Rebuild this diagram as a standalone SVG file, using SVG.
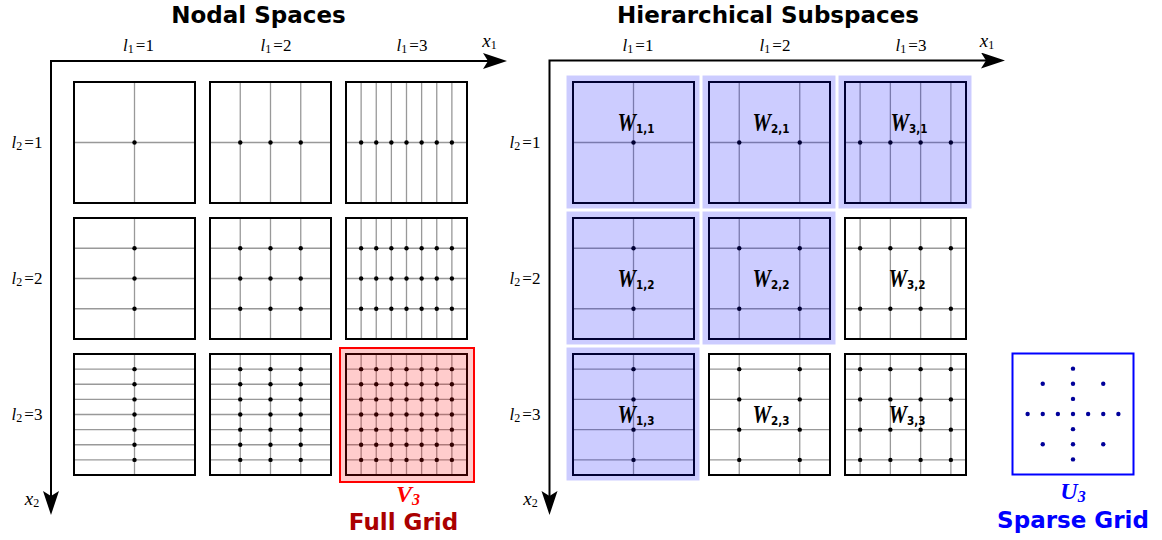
<svg xmlns="http://www.w3.org/2000/svg" width="1162" height="540" viewBox="0 0 1162 540">
<style>
.title{font-family:"DejaVu Sans","Liberation Sans",sans-serif;font-weight:bold;font-size:23px;text-anchor:middle}
.m{font-family:"Liberation Serif",serif;font-size:17px;fill:#000;text-anchor:middle}
.xl{font-family:"Liberation Serif",serif;font-size:19px;fill:#000;text-anchor:middle}
.it{font-style:italic}
.sb{font-size:12px}
.box{fill:none;stroke:#000;stroke-width:2}
.ax{fill:none;stroke:#000;stroke-width:2}
.hl{fill:#0000ff;fill-opacity:0.2;stroke:none}
.wl{font-family:"Liberation Serif",serif;font-weight:bold;font-style:italic;font-size:26px;text-anchor:middle}
.ws{font-family:"DejaVu Sans",sans-serif;font-weight:bold;font-style:normal;font-size:13px}
.big{font-family:"Liberation Serif",serif;font-weight:bold;font-style:italic;font-size:24px;text-anchor:middle}
.bigs{font-size:16px}
</style>
<defs>
<marker id="arr" markerUnits="userSpaceOnUse" viewBox="0 0 26 18" markerWidth="26" markerHeight="18" refX="5" refY="8" orient="auto-start-reverse"><path d="M0,0 L24,8 L0,16 L5,8 Z" fill="#000"/></marker>
<g id="V1" stroke="#999" stroke-width="1.3"><path d="M60.5 0V121"/></g>
<g id="V2" stroke="#999" stroke-width="1.3"><path d="M30.25 0V121M60.5 0V121M90.75 0V121"/></g>
<g id="V3" stroke="#999" stroke-width="1.3"><path d="M15.125 0V121M30.25 0V121M45.375 0V121M60.5 0V121M75.625 0V121M90.75 0V121M105.875 0V121"/></g>
<g id="H1" stroke="#999" stroke-width="1.3"><path d="M0 60.5H121"/></g>
<g id="H2" stroke="#999" stroke-width="1.3"><path d="M0 30.25H121M0 60.5H121M0 90.75H121"/></g>
<g id="H3" stroke="#999" stroke-width="1.3"><path d="M0 15.125H121M0 30.25H121M0 45.375H121M0 60.5H121M0 75.625H121M0 90.75H121M0 105.875H121"/></g>
<g id="HV2" stroke="#999" stroke-width="1.3"><path d="M30.25 0V121M90.75 0V121"/></g>
<g id="HV3" stroke="#999" stroke-width="1.3"><path d="M15.125 0V121M45.375 0V121M75.625 0V121M105.875 0V121"/></g>
<g id="HH2" stroke="#999" stroke-width="1.3"><path d="M0 30.25H121M0 90.75H121"/></g>
<g id="HH3" stroke="#999" stroke-width="1.3"><path d="M0 15.125H121M0 45.375H121M0 75.625H121M0 105.875H121"/></g>
<g id="D1" fill="#000"><circle cx="60.5" cy="0" r="2.2"/></g>
<g id="D2" fill="#000"><circle cx="30.25" cy="0" r="2.2"/><circle cx="60.5" cy="0" r="2.2"/><circle cx="90.75" cy="0" r="2.2"/></g>
<g id="D3" fill="#000"><circle cx="15.125" cy="0" r="2.2"/><circle cx="30.25" cy="0" r="2.2"/><circle cx="45.375" cy="0" r="2.2"/><circle cx="60.5" cy="0" r="2.2"/><circle cx="75.625" cy="0" r="2.2"/><circle cx="90.75" cy="0" r="2.2"/><circle cx="105.875" cy="0" r="2.2"/></g>
<g id="HD2" fill="#000"><circle cx="30.25" cy="0" r="2.2"/><circle cx="90.75" cy="0" r="2.2"/></g>
<g id="HD3" fill="#000"><circle cx="15.125" cy="0" r="2.2"/><circle cx="45.375" cy="0" r="2.2"/><circle cx="75.625" cy="0" r="2.2"/><circle cx="105.875" cy="0" r="2.2"/></g>
</defs>
<rect width="1162" height="540" fill="#fff"/>

<text class="title" x="258.5" y="23">Nodal Spaces</text>
<text class="title" x="768" y="23">Hierarchical Subspaces</text>

<g id="connectors">
<polyline class="ax" points="51,496 51,61 488,61" marker-start="url(#arr)" marker-end="url(#arr)"/>
<polyline class="ax" points="549.5,496 549.5,60.5 986,60.5" marker-start="url(#arr)" marker-end="url(#arr)"/>
</g>

<g id="axis-labels">
<text class="m" x="138.5" y="51"><tspan class="it">l</tspan><tspan class="sb" dy="2">1</tspan><tspan dx="2" dy="-2">=1</tspan></text>
<text class="m" x="276" y="51"><tspan class="it">l</tspan><tspan class="sb" dy="2">1</tspan><tspan dx="2" dy="-2">=2</tspan></text>
<text class="m" x="412" y="51"><tspan class="it">l</tspan><tspan class="sb" dy="2">1</tspan><tspan dx="2" dy="-2">=3</tspan></text>
<text class="xl" x="489.5" y="47"><tspan class="it">x</tspan><tspan class="sb" dy="2">1</tspan></text>
<text class="m" x="27" y="148"><tspan class="it">l</tspan><tspan class="sb" dy="2">2</tspan><tspan dx="2" dy="-2">=1</tspan></text>
<text class="m" x="27" y="284"><tspan class="it">l</tspan><tspan class="sb" dy="2">2</tspan><tspan dx="2" dy="-2">=2</tspan></text>
<text class="m" x="27" y="420"><tspan class="it">l</tspan><tspan class="sb" dy="2">2</tspan><tspan dx="2" dy="-2">=3</tspan></text>
<text class="xl" x="32" y="505"><tspan class="it">x</tspan><tspan class="sb" dy="2">2</tspan></text>

<text class="m" x="638" y="51"><tspan class="it">l</tspan><tspan class="sb" dy="2">1</tspan><tspan dx="2" dy="-2">=1</tspan></text>
<text class="m" x="775" y="51"><tspan class="it">l</tspan><tspan class="sb" dy="2">1</tspan><tspan dx="2" dy="-2">=2</tspan></text>
<text class="m" x="911" y="51"><tspan class="it">l</tspan><tspan class="sb" dy="2">1</tspan><tspan dx="2" dy="-2">=3</tspan></text>
<text class="xl" x="987" y="47"><tspan class="it">x</tspan><tspan class="sb" dy="2">1</tspan></text>
<text class="m" x="525" y="148"><tspan class="it">l</tspan><tspan class="sb" dy="2">2</tspan><tspan dx="2" dy="-2">=1</tspan></text>
<text class="m" x="525" y="284"><tspan class="it">l</tspan><tspan class="sb" dy="2">2</tspan><tspan dx="2" dy="-2">=2</tspan></text>
<text class="m" x="525" y="420"><tspan class="it">l</tspan><tspan class="sb" dy="2">2</tspan><tspan dx="2" dy="-2">=3</tspan></text>
<text class="xl" x="530.5" y="505"><tspan class="it">x</tspan><tspan class="sb" dy="2">2</tspan></text>
</g>

<!-- Nodal spaces -->
<g id="nodal-1-1"><use href="#V1" x="74" y="82"/><use href="#H1" x="74" y="82"/><rect class="box" x="74" y="82" width="121" height="121"/><use href="#D1" x="74" y="142.5"/></g>
<g id="nodal-2-1"><use href="#V2" x="210" y="82"/><use href="#H1" x="210" y="82"/><rect class="box" x="210" y="82" width="121" height="121"/><use href="#D2" x="210" y="142.5"/></g>
<g id="nodal-3-1"><use href="#V3" x="346" y="82"/><use href="#H1" x="346" y="82"/><rect class="box" x="346" y="82" width="121" height="121"/><use href="#D3" x="346" y="142.5"/></g>

<g id="nodal-1-2"><use href="#V1" x="74" y="218"/><use href="#H2" x="74" y="218"/><rect class="box" x="74" y="218" width="121" height="121"/><use href="#D1" x="74" y="248.25"/><use href="#D1" x="74" y="278.5"/><use href="#D1" x="74" y="308.75"/></g>
<g id="nodal-2-2"><use href="#V2" x="210" y="218"/><use href="#H2" x="210" y="218"/><rect class="box" x="210" y="218" width="121" height="121"/><use href="#D2" x="210" y="248.25"/><use href="#D2" x="210" y="278.5"/><use href="#D2" x="210" y="308.75"/></g>
<g id="nodal-3-2"><use href="#V3" x="346" y="218"/><use href="#H2" x="346" y="218"/><rect class="box" x="346" y="218" width="121" height="121"/><use href="#D3" x="346" y="248.25"/><use href="#D3" x="346" y="278.5"/><use href="#D3" x="346" y="308.75"/></g>

<g id="nodal-1-3"><use href="#V1" x="74" y="354"/><use href="#H3" x="74" y="354"/><rect class="box" x="74" y="354" width="121" height="121"/><use href="#D1" x="74" y="369.125"/><use href="#D1" x="74" y="384.25"/><use href="#D1" x="74" y="399.375"/><use href="#D1" x="74" y="414.5"/><use href="#D1" x="74" y="429.625"/><use href="#D1" x="74" y="444.75"/><use href="#D1" x="74" y="459.875"/></g>
<g id="nodal-2-3"><use href="#V2" x="210" y="354"/><use href="#H3" x="210" y="354"/><rect class="box" x="210" y="354" width="121" height="121"/><use href="#D2" x="210" y="369.125"/><use href="#D2" x="210" y="384.25"/><use href="#D2" x="210" y="399.375"/><use href="#D2" x="210" y="414.5"/><use href="#D2" x="210" y="429.625"/><use href="#D2" x="210" y="444.75"/><use href="#D2" x="210" y="459.875"/></g>
<g id="nodal-3-3"><use href="#V3" x="346" y="354"/><use href="#H3" x="346" y="354"/><rect class="box" x="346" y="354" width="121" height="121"/><use href="#D3" x="346" y="369.125"/><use href="#D3" x="346" y="384.25"/><use href="#D3" x="346" y="399.375"/><use href="#D3" x="346" y="414.5"/><use href="#D3" x="346" y="429.625"/><use href="#D3" x="346" y="444.75"/><use href="#D3" x="346" y="459.875"/>
<rect x="340" y="348" width="134" height="134" fill="#ff0000" fill-opacity="0.2" stroke="#ff0000" stroke-width="2"/></g>

<g id="full-grid-label">
<text class="big" x="408" y="502" fill="#ff0000">V<tspan class="bigs" dy="3">3</tspan></text>
<text class="title" x="403.5" y="530" fill="#aa0000">Full Grid</text>
</g>

<!-- Hierarchical subspaces -->
<g id="hier-1-1"><use href="#V1" x="573" y="82"/><use href="#H1" x="573" y="82"/><rect class="box" x="573" y="82" width="121" height="121"/><use href="#D1" x="573" y="142.5"/><rect class="hl" x="566.5" y="75.5" width="133" height="133"/>
<text class="wl" transform="translate(636,131) scale(0.8,1)">W<tspan class="ws" dy="2">1,1</tspan></text></g>
<g id="hier-2-1"><use href="#HV2" x="709" y="82"/><use href="#H1" x="709" y="82"/><rect class="box" x="709" y="82" width="121" height="121"/><use href="#HD2" x="709" y="142.5"/><rect class="hl" x="702.5" y="75.5" width="133" height="133"/>
<text class="wl" transform="translate(771,131) scale(0.8,1)">W<tspan class="ws" dy="2">2,1</tspan></text></g>
<g id="hier-3-1"><use href="#HV3" x="845" y="82"/><use href="#H1" x="845" y="82"/><rect class="box" x="845" y="82" width="121" height="121"/><use href="#HD3" x="845" y="142.5"/><rect class="hl" x="838.5" y="75.5" width="133" height="133"/>
<text class="wl" transform="translate(909,131) scale(0.8,1)">W<tspan class="ws" dy="2">3,1</tspan></text></g>

<g id="hier-1-2"><use href="#V1" x="573" y="218"/><use href="#HH2" x="573" y="218"/><rect class="box" x="573" y="218" width="121" height="121"/><use href="#D1" x="573" y="248.25"/><use href="#D1" x="573" y="308.75"/><rect class="hl" x="566.5" y="211.5" width="133" height="133"/>
<text class="wl" transform="translate(636,287) scale(0.8,1)">W<tspan class="ws" dy="2">1,2</tspan></text></g>
<g id="hier-2-2"><use href="#HV2" x="709" y="218"/><use href="#HH2" x="709" y="218"/><rect class="box" x="709" y="218" width="121" height="121"/><use href="#HD2" x="709" y="248.25"/><use href="#HD2" x="709" y="308.75"/><rect class="hl" x="702.5" y="211.5" width="133" height="133"/>
<text class="wl" transform="translate(771,287) scale(0.8,1)">W<tspan class="ws" dy="2">2,2</tspan></text></g>
<g id="hier-3-2"><use href="#HV3" x="845" y="218"/><use href="#HH2" x="845" y="218"/><rect class="box" x="845" y="218" width="121" height="121"/><use href="#HD3" x="845" y="248.25"/><use href="#HD3" x="845" y="308.75"/>
<text class="wl" transform="translate(907,287) scale(0.8,1)">W<tspan class="ws" dy="2">3,2</tspan></text></g>

<g id="hier-1-3"><use href="#V1" x="573" y="354"/><use href="#HH3" x="573" y="354"/><rect class="box" x="573" y="354" width="121" height="121"/><use href="#D1" x="573" y="369.125"/><use href="#D1" x="573" y="399.375"/><use href="#D1" x="573" y="429.625"/><use href="#D1" x="573" y="459.875"/><rect class="hl" x="566.5" y="347.5" width="133" height="133"/>
<text class="wl" transform="translate(636,423) scale(0.8,1)">W<tspan class="ws" dy="2">1,3</tspan></text></g>
<g id="hier-2-3"><use href="#HV2" x="709" y="354"/><use href="#HH3" x="709" y="354"/><rect class="box" x="709" y="354" width="121" height="121"/><use href="#HD2" x="709" y="369.125"/><use href="#HD2" x="709" y="399.375"/><use href="#HD2" x="709" y="429.625"/><use href="#HD2" x="709" y="459.875"/>
<text class="wl" transform="translate(771,423) scale(0.8,1)">W<tspan class="ws" dy="2">2,3</tspan></text></g>
<g id="hier-3-3"><use href="#HV3" x="845" y="354"/><use href="#HH3" x="845" y="354"/><rect class="box" x="845" y="354" width="121" height="121"/><use href="#HD3" x="845" y="369.125"/><use href="#HD3" x="845" y="399.375"/><use href="#HD3" x="845" y="429.625"/><use href="#HD3" x="845" y="459.875"/>
<text class="wl" transform="translate(907,423) scale(0.8,1)">W<tspan class="ws" dy="2">3,3</tspan></text></g>

<!-- Sparse grid -->
<g id="sparse-grid">
<rect x="1012.5" y="353.5" width="121" height="121" fill="none" stroke="#0000ff" stroke-width="2"/>
<g fill="#00009a">
<circle cx="1073" cy="368.625" r="2.2"/><circle cx="1073" cy="383.75" r="2.2"/><circle cx="1073" cy="398.875" r="2.2"/><circle cx="1073" cy="414" r="2.2"/><circle cx="1073" cy="429.125" r="2.2"/><circle cx="1073" cy="444.25" r="2.2"/><circle cx="1073" cy="459.375" r="2.2"/>
<circle cx="1027.625" cy="414" r="2.2"/><circle cx="1042.75" cy="414" r="2.2"/><circle cx="1057.875" cy="414" r="2.2"/><circle cx="1088.125" cy="414" r="2.2"/><circle cx="1103.25" cy="414" r="2.2"/><circle cx="1118.375" cy="414" r="2.2"/>
<circle cx="1042.75" cy="383.75" r="2.2"/><circle cx="1103.25" cy="383.75" r="2.2"/><circle cx="1042.75" cy="444.25" r="2.2"/><circle cx="1103.25" cy="444.25" r="2.2"/>
</g>
<text class="big" x="1073" y="499" fill="#0000ff">U<tspan class="bigs" dy="3">3</tspan></text>
<text class="title" x="1073" y="528" fill="#0000ff">Sparse Grid</text>
</g>
</svg>
